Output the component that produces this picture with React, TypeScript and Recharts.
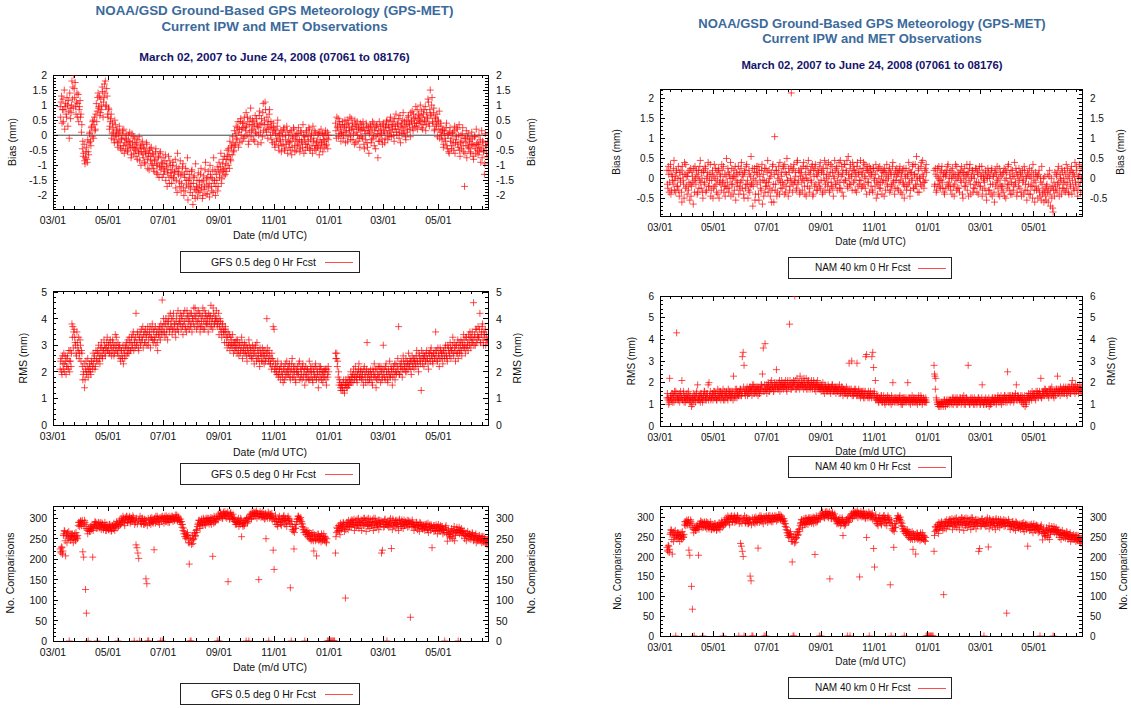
import React from "react";
import { ScatterChart, Scatter, XAxis, YAxis, ReferenceArea, ReferenceLine } from "recharts";

const FONT = '"Liberation Sans", Arial, Helvetica, sans-serif';

// ---- time axis: x = days since 1 March 2007 (record: 2 Mar 2007 .. 24 Jun 2008) ----
const X_END = 482;
const monthTickDays = [0, 61, 122, 184, 245, 306, 366, 427];
const monthTickLabels = ["03/01", "05/01", "07/01", "09/01", "11/01", "01/01", "03/01", "05/01"];
const minorTickDays = [
  12, 24, 37, 49, 73, 85, 98, 110, 134, 147, 159, 172, 196, 208, 221, 233,
  257, 269, 282, 294, 318, 330, 342, 354, 378, 390, 403, 415, 439, 451, 464, 476,
];

// ---- y tick values ----
const gfsBiasTicks = [-2, -1.5, -1, -0.5, 0, 0.5, 1, 1.5, 2];
const namBiasTicks = [-0.5, 0, 0.5, 1, 1.5, 2];
const gfsRmsTicks = [0, 1, 2, 3, 4, 5];
const namRmsTicks = [0, 1, 2, 3, 4, 5, 6];
const countTicks = [0, 50, 100, 150, 200, 250, 300];

// ---- daily values, one entry per day starting 2 Mar 2007 (null = no data) ----
// Two runs per day: run 1 is plotted at the start of the day, run 2 half a day later.

// GFS 0.5 deg 0 Hr Fcst IPW bias, hundredths of a millimetre
const gfsBiasRun1: (number | null)[] = [
  null, null, null, null, null, null, null, 95, 110, 40,
  120, 85, 20, 105, 60, 100, 115, -10, 90, 75,
  180, 160, 200, 125, 95, 110, 60, 135, 85, 115,
  70, 35, -20, -60, -85, -75, -40, -90, -55, -25,
  10, -35, 30, 45, -10, 60, 20, 105, 80, 140,
  95, 65, 120, 85, 145, 110, 170, 180, 100, 130,
  60, 85, 30, 55, -10, 40, 10, -25, 35, -5,
  20, -40, -20, 10, -45, -15, 15, -35, -60, -10,
  5, -30, -50, -20, 10, -40, -65, -25, -5, -45,
  -30, -70, -40, -15, -60, -85, -35, -55, -20, -75,
  -45, -95, -60, -30, -110, -70, -50, -85, -40, -100,
  -65, -120, -80, -45, -95, -130, -70, -105, -55, -90,
  -140, -75, -110, -85, -150, -95, -125, -70, -160, -100,
  -135, -115, -90, -145, -120, -175, -105, -60, -130, -155,
  -85, -185, -125, -95, -200, -140, -110, -165, -75, -150,
  -130, -190, -160, -115, -230, -140, -180, -95, -170, -205,
  -125, -150, -185, -110, -155, -200, -135, -170, -90, -145,
  -195, -120, -160, -100, -140, -185, -115, -75, -150, -200,
  -130, -105, -170, -90, -125, -60, -145, -95, -115, -70,
  -130, -80, -50, -100, -65, -20, -85, -40, -5, -55,
  15, -30, 30, -15, 45, 10, -25, 55, 20, 40,
  -10, 60, 25, 75, 0, 45, -20, 35, 90, 15,
  50, -15, 30, 65, 5, 40, -30, 25, 80, 10,
  55, -5, 105, 35, 110, 20, 60, -10, 45, 85,
  0, 30, -25, 40, 15, -40, 20, -10, 50, -35,
  5, -20, -55, 10, -30, 25, -45, -15, 30, -60,
  0, -25, -50, 15, -40, -10, 20, -55, -20, 5,
  -35, 25, -15, -45, 10, -25, 35, -60, -5, -30,
  15, -40, -20, 20, -50, 0, -35, 30, -10, -45,
  10, -25, -40, 5, -65, -15, 20, -30, -55, 0,
  -20, 15, -30, 10, -15, null, null, null, null, null,
  null, null, 40, -10, 25, 55, 5, 35, -20, 10,
  45, 0, 30, -25, 15, 50, -5, 25, 60, -15,
  20, 40, 5, -30, 35, 10, 45, -20, 20, -40,
  15, 35, -10, 25, -45, 5, 40, -25, 15, -60,
  10, 30, -15, 45, 0, -35, 25, -5, 35, -75,
  15, -20, 30, 5, -30, 40, 10, -10, 25, 50,
  -15, 35, 15, 60, -5, 30, 45, -20, 20, 70,
  0, 35, 55, 10, -25, 40, 25, 75, 5, 30,
  -15, 50, 20, 65, 35, -5, 45, 80, 15, 55,
  30, 95, 40, 20, 70, 50, 100, 25, 60, 35,
  85, 45, 15, 75, 55, 110, 30, 150, 65, 125,
  40, 90, 20, 60, 35, -5, 45, 80, 10, 30,
  -15, 20, -30, 15, -20, 40, -45, 5, -60, 25,
  -10, -35, 10, -50, 30, -25, -5, 20, -40, 35,
  -70, 0, -20, 25, -55, -170, -10, 15, -35, 5,
  -45, -15, -60, 10, -30, -80, -5, -45, 20, -25,
  -65, 0, -40, -90, 15, -20, -55, -130, 5, -35, -70,
];
const gfsBiasRun2: (number | null)[] = [
  null, null, null, null, null, null, null, 60, 130, 85,
  45, 150, 95, 70, 125, 30, 80, 140, 55, 100,
  120, 90, 155, 175, 70, 140, 105, 45, 95, 60,
  10, -45, -70, -30, -95, -55, -80, -15, -65, 5,
  -20, 25, -5, 50, 35, 15, 70, 45, 125, 90,
  130, 75, 100, 160, 60, 125, 140, 95, 155, 70,
  90, 20, 45, 70, 5, 25, -15, 50, 0, 15,
  -25, 5, 30, -35, -10, -50, 0, 20, -25, -45,
  -15, -55, 0, -35, -20, -75, 5, -40, -60, -10,
  -50, -25, -80, -55, -5, -45, -100, -30, -65, -40,
  -90, -55, -25, -80, -60, -115, -45, -70, -95, -60,
  -110, -85, -55, -125, -100, -75, -140, -60, -115, -105,
  -95, -130, -120, -65, -105, -170, -115, -140, -85, -125,
  -160, -100, -140, -125, -80, -150, -190, -120, -110, -170,
  -135, -160, -105, -175, -130, -185, -150, -120, -215, -170,
  -145, -175, -120, -200, -160, -135, -210, -185, -150, -175,
  -190, -165, -130, -175, -210, -150, -180, -115, -195, -165,
  -140, -175, -205, -130, -170, -145, -190, -160, -120, -170,
  -150, -185, -115, -140, -105, -160, -120, -80, -135, -110,
  -95, -120, -70, -45, -110, -80, -35, -65, -25, -50,
  -35, 5, -10, 25, -40, 20, 45, 0, -20, 25,
  40, -5, 15, 30, 60, -30, 10, 55, -5, 35,
  20, 45, -20, 10, 55, 30, 0, 65, 35, -25,
  40, 75, 15, 50, 85, 10, 35, 20, 70, 25,
  45, -15, 10, 25, -30, 5, -20, 30, 0, -50,
  -15, 15, -35, -5, 20, -50, 0, -30, 15, -20,
  -40, 10, -20, -65, -5, 25, -35, 0, -50, -15,
  5, -30, -55, 15, -20, -40, 0, -15, -50, 10,
  -30, -5, 25, -45, -15, 5, -60, -20, 15, -35,
  -50, -20, 0, -35, 10, -45, -25, 5, -15, -40,
  5, -35, -10, -45, 0, null, null, null, null, null,
  null, null, 15, 60, 30, -5, 45, 20, 5, 35,
  -10, 25, 50, 10, 35, -20, 40, 15, 0, 55,
  30, -15, 20, 50, -25, 30, 0, 25, -10, 40,
  -5, 20, 45, -30, 15, -15, 30, -40, 25, 5,
  35, -25, 20, -10, 40, 15, -45, 30, 5, -20,
  45, 0, 20, -15, 35, 15, -25, 30, 45, 5,
  25, -5, 50, 10, 35, 20, 0, 55, 30, 10,
  40, 20, -10, 65, 30, 5, 50, 15, 45, -5,
  35, 10, 60, 40, 20, 75, 50, 25, 70, 40,
  60, 30, 85, 55, 40, 65, 45, 80, 20, 70,
  50, 95, 35, 60, 120, 40, 85, 70, 100, 45,
  75, 15, 55, 30, 70, 50, 20, -10, 40, 0,
  15, -40, 5, -10, 25, -35, 0, -55, 10, -20,
  -45, 5, -25, 15, -60, -15, 25, -30, 0, -50,
  -25, -45, 5, -35, -10, -60, -25, -75, -5, -40,
  -20, -55, -30, -10, -70, -35, -5, -60, -30, -50,
  -30, -55, -15, -45, -75, -25, -50, -95, -35, -60, -20,
];

// GFS 0.5 deg 0 Hr Fcst IPW RMS, tenths of a millimetre
const gfsRmsRun1: (number | null)[] = [
  null, null, null, null, null, null, null, 21, 25, 19,
  23, 27, 20, 24, 22, 26, 21, 24, 28, 22,
  38, 37, 35, 33, 30, 26, 31, 28, 25, 32,
  24, 27, 17, 20, 14, 21, 19, 22, 18, 20,
  22, 19, 24, 21, 23, 26, 22, 25, 28, 24,
  27, 23, 26, 29, 25, 28, 30, 26, 29, 33,
  28, 31, 27, 30, 26, 32, 29, 27, 34, 30,
  28, 31, 26, 29, 24, 28, 25, 23, 27, 30,
  26, 29, 32, 27, 31, 28, 33, 30, 35, 32,
  29, 42, 31, 34, 28, 33, 30, 36, 32, 29,
  35, 31, 34, 30, 37, 32, 35, 29, 33, 38,
  31, 36, 33, 30, 35, 28, 34, 37, 32, 36,
  47, 35, 38, 33, 40, 36, 32, 39, 35, 42,
  37, 34, 40, 36, 38, 33, 41, 37, 35, 39,
  42, 36, 40, 34, 38, 43, 37, 35, 41, 39,
  36, 42, 38, 35, 40, 44, 37, 41, 36, 39,
  43, 38, 35, 41, 37, 44, 39, 36, 42, 38,
  40, 35, 41, 37, 45, 39, 36, 42, 38, 40,
  43, 37, 39, 34, 40, 36, 33, 38, 35, 31,
  37, 33, 29, 35, 31, 28, 33, 30, 34, 27,
  31, 29, 32, 27, 30, 26, 31, 28, 33, 25,
  29, 31, 27, 30, 24, 28, 32, 26, 29, 25,
  30, 27, 23, 29, 26, 31, 25, 28, 22, 27,
  24, 29, 26, 23, 28, 25, 40, 27, 24, 26,
  23, 21, 25, 37, 36, 20, 22, 19, 24, 18,
  21, 17, 23, 19, 16, 22, 20, 18, 24, 21,
  19, 23, 17, 21, 25, 20, 18, 22, 16, 20,
  22, 19, 24, 18, 21, 17, 23, 20, 15, 22,
  19, 21, 17, 24, 20, 18, 22, 16, 21, 19,
  23, 17, 20, 14, 22, 18, 21, 19, 16, 20,
  18, 21, 15, 19, 22, null, null, null, null, null,
  null, null, 27, 25, 22, 18, 15, 16, 13, 15,
  14, 17, 12, 15, 16, 14, 18, 15, 17, 20,
  16, 19, 21, 17, 22, 18, 16, 20, 23, 18,
  21, 17, 19, 15, 22, 18, 20, 31, 16, 19,
  17, 21, 19, 15, 20, 23, 18, 14, 21, 17,
  19, 22, 16, 20, 18, 30, 21, 17, 23, 19,
  16, 20, 24, 18, 21, 15, 22, 19, 17, 23,
  20, 25, 37, 19, 22, 24, 18, 26, 21, 23,
  25, 20, 23, 27, 22, 24, 19, 26, 23, 21,
  25, 22, 28, 24, 20, 26, 23, 13, 25, 27,
  22, 26, 24, 28, 25, 21, 27, 24, 29, 26,
  23, 27, 25, 35, 28, 24, 26, 22, 29, 25,
  27, 23, 28, 25, 30, 26, 24, 29, 27, 31,
  25, 28, 33, 26, 29, 24, 30, 27, 25, 31,
  28, 32, 26, 30, 34, 29, 27, 33, 30, 28,
  32, 35, 29, 33, 31, 46, 34, 30, 36, 32,
  37, 33, 42, 31, 35, 38, 30, 34, 36, 32, 31,
];
const gfsRmsRun2: (number | null)[] = [
  null, null, null, null, null, null, null, 24, 20, 26,
  21, 23, 26, 19, 25, 22, 28, 20, 24, 27,
  33, 29, 36, 31, 27, 35, 29, 33, 27, 30,
  28, 22, 19, 23, 17, 24, 20, 25, 21, 23,
  20, 24, 22, 27, 25, 21, 28, 24, 27, 30,
  25, 29, 31, 26, 28, 32, 27, 29, 31, 28,
  30, 27, 32, 29, 28, 31, 26, 30, 28, 33,
  27, 29, 30, 25, 28, 26, 30, 28, 25, 29,
  31, 27, 29, 33, 28, 31, 29, 34, 28, 31,
  33, 30, 35, 29, 32, 35, 31, 33, 37, 34,
  31, 36, 33, 35, 30, 34, 37, 33, 36, 32,
  35, 32, 37, 34, 31, 36, 33, 35, 38, 34,
  37, 40, 35, 38, 34, 39, 37, 41, 36, 38,
  40, 36, 42, 38, 35, 39, 36, 43, 38, 40,
  38, 41, 37, 42, 39, 36, 40, 43, 37, 41,
  39, 37, 42, 40, 38, 41, 44, 39, 42, 37,
  40, 42, 37, 39, 41, 36, 43, 40, 38, 41,
  38, 42, 39, 41, 37, 40, 44, 38, 41, 39,
  40, 38, 42, 37, 39, 35, 38, 36, 34, 36,
  35, 31, 33, 30, 34, 30, 32, 29, 31, 30,
  28, 31, 29, 32, 28, 30, 27, 29, 31, 28,
  27, 30, 28, 26, 29, 27, 30, 28, 26, 28,
  25, 29, 27, 30, 24, 28, 26, 24, 29, 26,
  27, 24, 28, 26, 24, 27, 29, 25, 28, 23,
  25, 27, 22, 24, 21, 23, 20, 22, 19, 21,
  19, 22, 20, 18, 21, 17, 23, 20, 19, 22,
  21, 18, 20, 23, 18, 22, 20, 17, 21, 19,
  20, 23, 17, 21, 19, 22, 18, 21, 19, 17,
  21, 18, 20, 17, 22, 20, 17, 20, 18, 22,
  18, 21, 19, 17, 20, 22, 17, 20, 18, 21,
  20, 17, 21, 18, 20, null, null, null, null, null,
  null, null, 25, 27, 24, 20, 17, 14, 15, 13,
  16, 13, 15, 17, 14, 16, 15, 17, 16, 18,
  18, 16, 19, 18, 20, 17, 19, 21, 18, 20,
  18, 20, 17, 21, 19, 16, 21, 18, 20, 17,
  20, 18, 16, 21, 18, 19, 21, 17, 19, 22,
  18, 20, 22, 17, 21, 19, 18, 22, 20, 17,
  21, 18, 19, 22, 20, 18, 21, 23, 20, 19,
  22, 21, 19, 23, 20, 22, 21, 24, 22, 20,
  22, 24, 21, 23, 25, 21, 24, 22, 25, 24,
  23, 26, 24, 22, 27, 24, 25, 28, 23, 25,
  26, 24, 27, 25, 23, 27, 25, 28, 26, 24,
  27, 25, 28, 26, 24, 29, 27, 25, 28, 27,
  25, 28, 26, 29, 27, 25, 30, 28, 26, 29,
  28, 30, 27, 31, 28, 30, 27, 32, 29, 27,
  30, 28, 31, 29, 32, 30, 33, 29, 31, 34,
  30, 33, 31, 35, 32, 30, 33, 36, 31, 34,
  33, 36, 31, 34, 37, 32, 35, 33, 30, 34, 32,
];

// number of station comparisons per run (same station set for both models)
const comparisonsRun1: (number | null)[] = [
  null, null, null, null, null, null, null, 225, 215, 228,
  220, 262, 268, 208, 258, 265, 250, 0, 255, 262,
  248, 258, 252, 262, 245, 256, 250, 282, 290, 285,
  292, 288, 218, 205, 295, 126, 68, 270, 0, 272,
  268, 275, 282, 205, 278, 285, 290, 275, 0, 282,
  288, 276, 290, 280, 285, 272, 278, 282, 270, 275,
  280, 272, 285, 276, 270, 282, 274, 280, 278, 285,
  276, 0, 282, 290, 285, 296, 292, 300, 288, 302,
  296, 304, 290, 298, 305, 292, 300, 296, 302, 0,
  298, 235, 228, 215, 202, 0, 292, 286, 300, 292,
  285, 296, 152, 140, 0, 0, 288, 300, 292, 296,
  288, 223, 296, 305, 292, 300, 298, 285, 0, 303,
  0, 300, 288, 305, 298, 292, 302, 296, 290, 300,
  305, 298, 292, 302, 296, 300, 308, 294, 302, 296,
  290, 285, 278, 270, 262, 255, 250, 260, 265, 240,
  188, 0, 0, 245, 238, 250, 265, 258, 272, 280,
  288, 295, 275, 292, 283, 285, 298, 290, 283, 296,
  300, 293, 286, 298, 302, 295, 207, 288, 300, 292,
  298, 0, 296, 0, 302, 312, 305, 300, 315, 308,
  303, 312, 306, 145, 310, 298, 314, 305, 300, 296,
  292, 285, 290, 296, 288, 280, 294, 300, 255, 286,
  290, 282, 295, 0, 300, 292, 0, 305, 310, 298,
  312, 305, 308, 315, 310, 300, 312, 150, 305, 310,
  312, 305, 302, 310, 300, 250, 308, 306, 0, 300,
  310, 305, 296, 222, 175, 300, 285, 292, 280, 298,
  305, 290, 282, 300, 295, 306, 285, 295, 280, 300,
  295, 288, 130, 0, 272, 268, 225, 285, 276, 292,
  298, 305, 300, 296, 288, 280, 272, 265, 0, 260,
  268, 255, 262, 250, 258, 245, 248, 265, 220, 255,
  245, 208, 252, 260, 248, 255, 242, 258, 250, 262,
  245, 252, 240, 0, 0, 0, 0, 0, 0, 0,
  0, 0, 215, 265, 275, 270, 282, 260, 278, 285,
  275, 288, 268, 105, 280, 290, 272, 285, 278, 292,
  280, 295, 285, 270, 290, 278, 298, 285, 275, 292,
  288, 270, 295, 282, 300, 290, 268, 298, 280, 285,
  275, 292, 282, 296, 270, 288, 300, 278, 290, 284,
  272, 295, 286, 215, 222, 290, 280, 298, 285, 0,
  292, 278, 288, 300, 226, 272, 294, 282, 290, 276,
  295, 285, 270, 298, 288, 280, 292, 275, 296, 284,
  290, 286, 278, 294, 285, 58, 288, 296, 280, 270,
  285, 278, 290, 272, 282, 268, 288, 276, 280, 274,
  284, 270, 278, 286, 272, 265, 280, 276, 284, 228,
  275, 268, 282, 270, 278, 262, 285, 272, 268, 280,
  275, 262, 270, 0, 278, 265, 244, 272, 260, 252,
  268, 255, 250, 262, 245, 258, 270, 265, 0, 278,
  272, 265, 258, 268, 262, 250, 258, 245, 262, 255,
  250, 260, 248, 255, 262, 245, 252, 258, 240, 250,
  255, 245, 252, 248, 240, 256, 244, 250, 238, 246, 235,
];
const comparisonsRun2: (number | null)[] = [
  null, null, null, null, null, null, null, 218, 230, 212,
  258, 270, 245, 262, 240, 255, 268, 252, 246, 258,
  262, 240, 255, 248, 265, 252, 258, 290, 280, 294,
  282, 295, 286, 280, 290, 275, 285, 262, 275, 268,
  280, 272, 278, 270, 285, 292, 280, 288, 276, 290,
  278, 285, 272, 288, 276, 282, 290, 270, 284, 278,
  272, 285, 278, 268, 282, 276, 288, 270, 284, 292,
  288, 280, 295, 285, 300, 290, 305, 295, 282, 298,
  305, 290, 298, 302, 288, 300, 292, 306, 295, 285,
  290, 300, 286, 295, 298, 305, 288, 300, 294, 285,
  298, 288, 295, 282, 300, 290, 296, 285, 302, 290,
  296, 300, 288, 298, 305, 290, 295, 302, 298, 292,
  305, 295, 300, 292, 306, 298, 290, 305, 300, 296,
  298, 305, 300, 295, 308, 302, 296, 305, 298, 292,
  298, 292, 285, 276, 268, 262, 256, 252, 258, 250,
  240, 252, 236, 258, 248, 262, 255, 270, 265, 285,
  295, 282, 290, 298, 288, 300, 285, 295, 300, 288,
  292, 300, 295, 290, 285, 300, 295, 305, 290, 298,
  305, 300, 310, 305, 315, 308, 300, 312, 305, 316,
  310, 300, 315, 305, 298, 312, 308, 300, 310, 302,
  298, 290, 285, 292, 300, 288, 285, 296, 290, 280,
  286, 295, 290, 300, 288, 302, 298, 310, 300, 315,
  305, 315, 312, 305, 318, 312, 305, 310, 316, 302,
  305, 315, 310, 298, 312, 305, 300, 315, 310, 305,
  302, 312, 305, 300, 292, 308, 296, 285, 300, 290,
  298, 285, 300, 292, 305, 296, 300, 288, 295, 305,
  300, 296, 285, 292, 280, 272, 265, 275, 285, 298,
  305, 300, 296, 302, 292, 286, 278, 272, 268, 265,
  260, 270, 255, 265, 250, 262, 255, 245, 260, 250,
  258, 248, 262, 245, 255, 250, 262, 245, 255, 248,
  255, 242, 250, null, null, null, null, null, null, null,
  null, null, 255, 278, 268, 282, 270, 288, 272, 280,
  290, 278, 285, 272, 290, 282, 295, 280, 288, 296,
  285, 290, 298, 282, 295, 288, 282, 300, 290, 282,
  296, 285, 290, 300, 282, 295, 288, 285, 300, 290,
  298, 282, 290, 285, 300, 278, 292, 288, 282, 296,
  288, 280, 294, 285, 292, 278, 296, 285, 290, 282,
  286, 295, 280, 290, 285, 298, 282, 288, 295, 285,
  290, 280, 295, 286, 280, 296, 285, 290, 282, 292,
  285, 295, 288, 280, 292, 285, 280, 290, 286, 282,
  278, 290, 282, 285, 276, 290, 280, 285, 274, 282,
  276, 285, 280, 272, 288, 278, 284, 270, 280, 275,
  282, 276, 270, 284, 275, 280, 270, 278, 282, 272,
  280, 272, 265, 276, 282, 270, 260, 265, 255, 262,
  275, 268, 272, 280, 270, 265, 278, 272, 268, 262,
  270, 275, 268, 262, 270, 258, 264, 255, 268, 260,
  262, 255, 258, 265, 252, 258, 248, 262, 255, 245,
  250, 258, 245, 255, 250, 242, 255, 248, 245, 240, 248,
];

// NAM 40 km 0 Hr Fcst IPW bias, hundredths of a millimetre
const namBiasRun1: (number | null)[] = [
  null, null, null, null, null, null, null, 20, -25, 10,
  -10, 35, -30, 5, -15, 45, -5, -35, 15, -20,
  30, -45, 0, 20, -60, 10, -15, 40, -25, 5,
  -40, 15, -10, -55, 25, -20, 5, -65, -5, 30,
  -15, 10, -35, 20, -5, 45, -25, 0, -50, 15,
  -10, 25, -30, 5, 40, -20, 10, -45, -5, 20,
  -25, 35, 0, -15, 15, -40, 25, -10, 5, -30,
  20, -5, -35, 10, -20, 50, -10, 15, -25, 0,
  -45, 25, -15, 5, -30, 30, -5, -20, 10, -40,
  15, -10, 40, -25, 5, -50, 20, -15, 35, -5,
  -30, 10, -20, 55, -10, -70, 0, 25, -40, 15,
  -15, 30, -55, 5, -25, 20, -65, 10, -5, -35,
  25, -20, 45, -10, 0, -45, 15, -30, 35, -60,
  105, -15, 20, -35, 10, -5, 40, -25, 5, -10,
  30, -40, 15, -20, 50, -5, 25, -30, 0, 215,
  20, -15, 35, -10, 5, -25, 45, -5, 15, -35,
  25, -10, 0, 40, -20, 10, -45, 30, -5, 15,
  -25, 20, -10, 35, -40, 5, 25, -15, 10, -30,
  15, -20, 40, -5, 20, -35, 10, 45, -15, 0,
  25, -10, 5, -30, 35, -20, 15, -45, 0, 20,
  -15, 30, -5, 10, -25, 45, 5, -35, 20, -10,
  35, -5, 15, -20, 55, 0, 25, -15, 10, 40,
  -10, 20, -30, 5, 30, -20, 15, -5, 45, -25,
  10, 25, -15, 35, 0, -40, 20, -10, 30, 5,
  -20, 15, -35, 25, -5, 10, -50, 20, -15, 0,
  30, -25, 5, -10, 20, -45, 15, -5, 35, -20,
  0, 25, -30, 10, -15, 40, -5, -40, 20, 5,
  -25, 15, -10, 30, -35, 5, 20, -15, -50, 10,
  25, -20, 5, 40, -10, -30, 15, 0, 35, -25,
  10, -15, 55, -5, 20, -35, 0, 30, -20, 45,
  5, -10, 25, 35, null, null, null, null, null, null,
  null, null, 20, -15, 10, -30, 25, 0, -20, 15,
  -5, 30, -25, 10, -40, 5, 20, -15, 35, -10,
  15, -30, 0, 25, -20, -45, 10, -5, 30, -25,
  5, -35, 20, -10, 15, -50, 0, 25, -20, 10,
  -30, 15, -5, 35, -40, 5, 20, -25, 0, -15,
  25, -35, 10, -10, 30, -20, 5, -45, 15, -5,
  -25, 20, -55, 0, 15, -30, 10, -40, 25, -15,
  5, -60, 20, -10, 30, -25, 0, -45, 15, -20,
  10, -35, 25, -5, -50, 15, -15, 35, -30, 0,
  20, -40, 5, -20, 40, -10, 15, -35, 0, 25,
  -25, 10, -45, 20, -5, 30, -30, 5, -55, 15,
  -15, 25, -40, 0, -20, 35, -10, -60, 15, -30,
  5, -25, 20, -45, -10, 30, -40, 0, -35, -25,
  -55, -15, 10, -30, 20, -70, 0, -20, -85, -10,
  15, -30, 5, -15, 30, -45, 10, -5, 25, -25,
  0, 20, -35, 35, -10, 5, -40, 15, -20, 30,
  -5, 10, -30, 40, -15, 20, -45, 5, 35, -10, 25,
];
const namBiasRun2: (number | null)[] = [
  null, null, null, null, null, null, null, -15, 30, -35,
  20, -40, 10, -5, 25, -30, 5, 20, -20, 0,
  -30, 15, -10, -35, 30, -5, -50, 10, 35, -20,
  5, -30, 20, -15, -45, 15, -10, 25, -35, 0,
  20, -40, 5, -25, 30, -10, 15, -35, 20, -15,
  30, -35, 0, 15, -20, -5, 35, -30, 10, -50,
  5, -20, 25, -35, -5, 20, -50, 10, -15, 35,
  -10, 30, -20, -45, 5, -25, 25, -35, 10, 40,
  -15, 0, -40, 20, 5, -55, 15, -10, 30, -20,
  -30, 25, -5, 10, -40, 15, -25, 30, -15, -50,
  20, -35, 5, -15, 25, -20, 15, -55, -5, 30,
  10, -40, 20, -10, -30, 35, -5, -45, 25, -20,
  -10, 15, -35, 20, -25, 5, -60, 30, -15, 10,
  -30, 20, -45, 0, 30, -40, -10, 15, -25, 25,
  -15, 35, -35, 10, -5, -45, 15, -20, 30, -10,
  -35, 25, -5, 15, -30, 40, -15, 20, -40, 5,
  15, -30, 30, -5, -40, 25, 0, -20, 45, -35,
  10, -5, 30, -45, 20, -20, 35, -30, 5, 20,
  -10, 30, -25, 15, -40, 25, -5, -30, 35, 10,
  -20, 40, -35, 15, -10, 30, -25, 5, 45, -15,
  25, -30, 15, 40, -10, -25, 30, 10, -45, 35,
  -5, 20, 45, -25, 10, -15, 35, 5, -30, 20,
  30, -5, 15, -35, 40, 10, -15, 25, -5, 15,
  -20, 40, 5, -25, 20, 30, -10, 15, -35, 25,
  10, -30, 25, 0, -20, 35, -10, -40, 25, -25,
  -10, 20, -40, 15, -5, 25, -30, 10, -15, 5,
  20, -35, 15, -20, 30, -10, 10, -25, -5, 25,
  10, -30, 20, -5, 15, -40, -10, 25, -20, 0,
  -30, 10, -15, 20, -45, 15, -5, 30, -25, 10,
  35, -20, 5, -35, 25, 0, -15, 40, 10, -10,
  -25, 20, -5, 15, null, null, null, null, null, null,
  null, null, -20, 25, -35, 5, -15, 30, -5, -25,
  20, -10, 5, -35, 15, -25, 10, 30, -20, 0,
  -20, 20, -40, 5, 10, -15, 35, -30, 0, 15,
  -25, 10, -5, 30, -40, 15, -20, 5, -10, 35,
  10, -45, 25, -15, 0, 20, -35, 10, -25, 25,
  -10, 15, -40, 20, -20, 5, 30, -30, 0, -10,
  10, -40, 5, 25, -30, 0, -15, 20, -45, 5,
  -35, 15, -20, 10, -5, -40, 25, -15, 5, -30,
  -20, 15, -45, 20, 0, -25, 30, -15, 10, -40,
  -10, 20, -30, 5, -15, 25, -45, 10, -20, -5,
  15, -35, 5, -10, -40, 20, -15, 0, -30, 10,
  -40, 5, -20, 20, -50, 10, -30, -5, -20, 5,
  -50, 10, -35, 0, -55, -15, -30, -60, 5, -45,
  -20, -35, -60, 5, -40, -25, -50, -75, -30, -45,
  -20, 10, -35, 20, -10, -25, 0, -40, 15, -15,
  -30, -10, 10, -25, 25, -35, 0, -15, 20, -40,
  15, -25, 5, -10, 30, -30, 0, -20, 10, -35, 0,
];

// NAM 40 km 0 Hr Fcst IPW RMS, tenths of a millimetre
const namRmsRun1: (number | null)[] = [
  null, null, null, null, null, null, null, 13, 12, 10,
  22, 14, 12, 15, 13, 11, 14, 16, 43, 13,
  12, 15, 13, 14, 21, 12, 16, 13, 11, 14,
  15, 12, 14, 13, 11, 9, 13, 15, 12, 14,
  13, 16, 19, 12, 14, 11, 15, 13, 12, 14,
  16, 13, 12, 15, 19, 20, 14, 12, 13, 15,
  14, 16, 13, 15, 12, 17, 14, 13, 16, 15,
  13, 17, 14, 12, 15, 16, 13, 17, 14, 15,
  16, 13, 15, 23, 14, 17, 15, 13, 16, 14,
  15, 17, 14, 32, 34, 28, 15, 17, 16, 14,
  17, 15, 18, 16, 14, 17, 19, 15, 16, 18,
  16, 14, 18, 15, 17, 19, 24, 36, 16, 38,
  17, 15, 18, 19, 16, 20, 17, 19, 18, 16,
  19, 18, 26, 17, 20, 18, 16, 19, 21, 18,
  17, 20, 18, 19, 16, 21, 18, 47, 19, 17,
  20, 18, 19, 60, 21, 17, 19, 18, 20, 23,
  18, 21, 19, 17, 20, 18, 22, 19, 17, 20,
  19, 18, 21, 17, 19, 20, 18, 16, 19, 21,
  18, 17, 19, 16, 18, 20, 17, 15, 18, 16,
  17, 19, 16, 18, 15, 17, 19, 16, 18, 17,
  15, 18, 16, 17, 19, 15, 16, 18, 14, 17,
  16, 15, 18, 14, 16, 29, 17, 15, 30, 16,
  14, 17, 15, 16, 29, 14, 17, 15, 13, 16,
  15, 14, 16, 13, 32, 33, 14, 16, 13, 15,
  14, 32, 34, 27, 15, 21, 13, 12, 14, 11,
  13, 12, 14, 11, 13, 12, 10, 13, 12, 14,
  11, 13, 12, 10, 13, 20, 12, 11, 13, 12,
  11, 13, 12, 14, 11, 12, 10, 13, 12, 11,
  13, 12, 20, 11, 13, 10, 12, 14, 11, 12,
  13, 11, 12, 10, 13, 12, 11, 14, 12, 11,
  13, 12, 11, 12, null, null, null, null, null, null,
  null, null, 28, 23, 22, 12, 10, 9, 10, 11,
  9, 10, 11, 10, 12, 9, 11, 10, 12, 11,
  10, 12, 11, 13, 10, 12, 11, 13, 12, 10,
  12, 11, 13, 10, 12, 11, 14, 12, 10, 13,
  11, 28, 12, 10, 13, 11, 12, 10, 13, 11,
  12, 10, 11, 13, 12, 10, 11, 19, 12, 10,
  11, 13, 10, 12, 11, 9, 12, 10, 11, 13,
  12, 11, 13, 10, 12, 14, 11, 13, 12, 10,
  13, 11, 12, 14, 11, 13, 25, 12, 14, 11,
  13, 12, 14, 11, 13, 15, 19, 12, 14, 13,
  12, 14, 11, 13, 10, 12, 9, 11, 14, 13,
  15, 12, 14, 13, 16, 14, 13, 15, 12, 14,
  16, 13, 15, 14, 22, 13, 15, 16, 14, 17,
  15, 14, 16, 13, 15, 17, 14, 16, 15, 13,
  16, 14, 17, 23, 15, 16, 14, 17, 15, 16,
  18, 15, 17, 16, 14, 18, 16, 17, 15, 19,
  21, 16, 18, 15, 17, 16, 18, 15, 17, 16, 18,
];
const namRmsRun2: (number | null)[] = [
  null, null, null, null, null, null, null, 15, 13, 11,
  13, 12, 15, 11, 14, 16, 12, 13, 15, 12,
  14, 11, 16, 13, 12, 15, 11, 14, 13, 12,
  13, 16, 11, 14, 12, 13, 10, 12, 14, 11,
  15, 12, 13, 14, 12, 15, 13, 11, 14, 16,
  12, 14, 15, 13, 12, 14, 16, 13, 15, 12,
  16, 13, 15, 12, 14, 13, 16, 15, 12, 14,
  15, 12, 16, 14, 13, 15, 12, 14, 16, 13,
  14, 16, 12, 15, 13, 14, 17, 15, 14, 16,
  17, 14, 16, 15, 18, 16, 14, 16, 18, 15,
  15, 18, 16, 17, 19, 15, 17, 18, 16, 15,
  18, 17, 15, 17, 19, 16, 18, 16, 19, 17,
  19, 17, 20, 16, 18, 17, 21, 18, 16, 20,
  17, 20, 19, 18, 17, 21, 19, 17, 19, 20,
  19, 18, 21, 17, 20, 18, 19, 21, 17, 20,
  18, 21, 20, 17, 19, 22, 18, 20, 17, 19,
  20, 18, 20, 22, 18, 19, 17, 20, 21, 18,
  17, 20, 18, 19, 21, 17, 19, 20, 18, 17,
  19, 18, 17, 19, 17, 16, 18, 19, 17, 18,
  16, 18, 17, 16, 18, 19, 16, 17, 16, 18,
  17, 16, 18, 15, 17, 16, 18, 16, 17, 15,
  17, 16, 15, 17, 15, 16, 15, 17, 14, 15,
  16, 15, 17, 14, 15, 16, 14, 16, 15, 14,
  16, 13, 15, 16, 14, 15, 13, 15, 14, 16,
  13, 15, 14, 16, 13, 12, 14, 13, 11, 13,
  12, 14, 11, 12, 14, 11, 13, 11, 13, 12,
  13, 11, 12, 14, 11, 12, 13, 12, 11, 13,
  12, 11, 13, 12, 10, 13, 12, 11, 13, 12,
  11, 12, 13, 12, 11, 13, 12, 11, 13, 11,
  12, 13, 11, 12, 14, 11, 12, 13, 10, 12,
  12, 11, 13, 11, null, null, null, null, null, null,
  null, null, 24, 17, 13, 11, 10, 11, 9, 10,
  11, 10, 9, 12, 10, 11, 12, 10, 11, 12,
  12, 11, 10, 12, 13, 11, 12, 10, 13, 11,
  11, 13, 12, 11, 13, 12, 10, 11, 13, 12,
  12, 11, 10, 12, 11, 13, 11, 12, 10, 12,
  11, 12, 13, 11, 10, 12, 13, 11, 10, 12,
  12, 10, 12, 11, 13, 11, 10, 12, 13, 11,
  11, 13, 12, 11, 13, 12, 13, 11, 14, 12,
  12, 13, 14, 12, 13, 11, 14, 13, 12, 14,
  12, 14, 13, 12, 14, 13, 12, 14, 13, 12,
  13, 12, 14, 11, 13, 14, 12, 10, 13, 12,
  14, 13, 15, 12, 14, 15, 14, 13, 16, 15,
  14, 15, 16, 14, 13, 16, 14, 15, 17, 15,
  16, 15, 14, 17, 16, 15, 18, 15, 14, 16,
  15, 17, 16, 15, 17, 16, 18, 16, 17, 15,
  16, 17, 18, 15, 17, 16, 18, 15, 17, 16,
  17, 18, 16, 19, 16, 18, 17, 16, 19, 17, 16,
];

type Pt = { day: number; value: number };
const toPoints = (values: (number | null)[], unit: number, dayOffset: number): Pt[] =>
  values.flatMap((v, i) => (v === null ? [] : [{ day: i + 1 + dayOffset, value: v / unit }]));
const twoRuns = (a: (number | null)[], b: (number | null)[], unit: number): Pt[] => [
  ...toPoints(a, unit, 0),
  ...toPoints(b, unit, 0.5),
];

const minorTicks = (lo: number, hi: number, step: number, majors: number[]) => {
  const out: number[] = [];
  for (let k = Math.ceil(lo / step - 1e-9); k * step <= hi + 1e-9; k++) {
    const v = Math.round(k * step * 1000) / 1000;
    if (!majors.some((m) => Math.abs(m - v) < 1e-6)) out.push(v);
  }
  return out;
};

const Cross = (props: any) => {
  const { cx, cy } = props;
  if (cx == null || cy == null || isNaN(cx) || isNaN(cy)) return null;
  const r = 3.5;
  return (
    <path
      d={`M${cx - r},${cy}H${cx + r}M${cx},${cy - r}V${cy + r}`}
      stroke="#ff0000"
      strokeOpacity={0.7}
      strokeWidth={1}
      fill="none"
    />
  );
};

const ML = 70;
const MR = 60;
const MT = 12;
const MB = 40;

type PanelProps = {
  left: number;
  top: number;
  width: number;
  height: number;
  domain: [number, number];
  majors: number[];
  minorStep: number;
  points: Pt[];
  font: number;
  zeroLine?: boolean;
};

function Panel(p: PanelProps) {
  const xTicks = [...monthTickDays, ...minorTickDays].sort((a, b) => a - b);
  const yMinors = minorTicks(p.domain[0], p.domain[1], p.minorStep, p.majors);
  const yTicks = [...p.majors, ...yMinors].sort((a, b) => a - b);
  const textStyle = { fontFamily: FONT, fontSize: p.font, fill: "#111" };

  const XTick = (props: any) => {
    const { x, y, payload } = props;
    const idx = monthTickDays.indexOf(payload.value);
    const len = idx >= 0 ? 5 : 3;
    return (
      <g>
        <line x1={x} x2={x} y1={y} y2={y - len} stroke="#000" shapeRendering="crispEdges" />
        <line x1={x} x2={x} y1={y - p.height} y2={y - p.height + len} stroke="#000" shapeRendering="crispEdges" />
        {idx >= 0 && (
          <text x={x} y={y + 11} textAnchor="middle" dominantBaseline="central" style={textStyle}>
            {monthTickLabels[idx]}
          </text>
        )}
      </g>
    );
  };

  const YTick = (props: any) => {
    const { x, y, payload } = props;
    const major = p.majors.some((m) => Math.abs(m - payload.value) < 1e-6);
    const len = major ? 5 : 3;
    return (
      <g>
        <line x1={x} x2={x + len} y1={y} y2={y} stroke="#000" shapeRendering="crispEdges" />
        <line x1={x + p.width - len} x2={x + p.width} y1={y} y2={y} stroke="#000" shapeRendering="crispEdges" />
        {major && (
          <>
            <text x={x - 6} y={y} textAnchor="end" dominantBaseline="central" style={textStyle}>
              {String(payload.value)}
            </text>
            <text x={x + p.width + 8} y={y} textAnchor="start" dominantBaseline="central" style={textStyle}>
              {String(payload.value)}
            </text>
          </>
        )}
      </g>
    );
  };

  return (
    <div style={{ position: "absolute", left: p.left - ML, top: p.top - MT }}>
      <ScatterChart
        width={ML + p.width + MR}
        height={MT + p.height + MB}
        margin={{ top: MT, right: MR, bottom: 0, left: 0 }}
      >
        <XAxis
          xAxisId="d"
          type="number"
          dataKey="day"
          domain={[0, X_END]}
          ticks={xTicks}
          interval={0}
          tick={XTick}
          tickLine={false}
          axisLine={false}
          tickSize={0}
          tickMargin={0}
          height={MB}
          allowDataOverflow
        />
        <YAxis
          yAxisId="v"
          type="number"
          dataKey="value"
          domain={p.domain}
          ticks={yTicks}
          interval={0}
          tick={YTick}
          tickLine={false}
          axisLine={false}
          tickSize={0}
          tickMargin={0}
          width={ML}
          allowDataOverflow
        />
        {p.zeroLine && <ReferenceLine xAxisId="d" yAxisId="v" y={0} stroke="#444" strokeWidth={1} />}
        <Scatter xAxisId="d" yAxisId="v" data={p.points} shape={Cross} isAnimationActive={false} />
        <ReferenceArea
          xAxisId="d"
          yAxisId="v"
          x1={0}
          x2={X_END}
          y1={p.domain[0]}
          y2={p.domain[1]}
          fill="none"
          fillOpacity={0}
          stroke="#000"
          strokeWidth={1}
          ifOverflow="visible"
          shapeRendering="crispEdges"
        />
      </ScatterChart>
    </div>
  );
}

const Txt = (props: {
  x: number;
  y: number;
  size: number;
  children: React.ReactNode;
  weight?: number | string;
  color?: string;
  rotate?: boolean;
}) => (
  <div
    style={{
      position: "absolute",
      left: props.x,
      top: props.y,
      transform: `translate(-50%, -50%)${props.rotate ? " rotate(-90deg)" : ""}`,
      fontFamily: FONT,
      fontSize: props.size,
      fontWeight: props.weight ?? "normal",
      color: props.color ?? "#111",
      whiteSpace: "nowrap",
      lineHeight: 1,
    }}
  >
    {props.children}
  </div>
);

const LegendBox = (props: {
  left: number;
  top: number;
  width: number;
  height: number;
  textRight: number;
  lineFrom: number;
  lineTo: number;
  label: string;
  size: number;
}) => (
  <div
    style={{
      position: "absolute",
      left: props.left,
      top: props.top,
      width: props.width,
      height: props.height,
      border: "1px solid #222",
      boxSizing: "border-box",
    }}
  >
    <div
      style={{
        position: "absolute",
        right: props.left + props.width - props.textRight,
        top: "50%",
        transform: "translateY(-50%)",
        fontFamily: FONT,
        fontSize: props.size,
        color: "#111",
        whiteSpace: "nowrap",
        lineHeight: 1,
      }}
    >
      {props.label}
    </div>
    <div
      style={{
        position: "absolute",
        left: props.lineFrom - props.left - 1,
        width: props.lineTo - props.lineFrom,
        top: Math.floor(props.height / 2) - 1,
        height: 1,
        background: "#ff4a4a",
      }}
    />
  </div>
);

const gfsBiasPts = twoRuns(gfsBiasRun1, gfsBiasRun2, 100);
const gfsRmsPts = twoRuns(gfsRmsRun1, gfsRmsRun2, 10);
const countPts = twoRuns(comparisonsRun1, comparisonsRun2, 1);
const namBiasPts = twoRuns(namBiasRun1, namBiasRun2, 100);
const namRmsPts = twoRuns(namRmsRun1, namRmsRun2, 10);

const TITLE1 = "NOAA/GSD Ground-Based GPS Meteorology (GPS-MET)";
const TITLE2 = "Current IPW and MET Observations";
const PERIOD = "March 02, 2007 to June 24, 2008 (07061 to 08176)";
const DATE_LABEL = "Date (m/d UTC)";
const GFS_NAME = "GFS 0.5 deg 0 Hr Fcst";
const NAM_NAME = "NAM 40 km 0 Hr Fcst";

export default function App() {
  // left column geometry
  const L = { x: 52.5, w: 435, font: 10.5 };
  // right column geometry
  const R = { x: 659.5, w: 422, font: 10 };

  return (
    <div
      style={{
        position: "absolute",
        left: 0,
        top: 0,
        width: 1131,
        height: 708,
        background: "#fff",
        overflow: "hidden",
      }}
    >
      {/* ---------------- GFS column ---------------- */}
      <Txt x={274.5} y={11} size={13.4} weight="bold" color="#3b6a9c">{TITLE1}</Txt>
      <Txt x={274.5} y={26.5} size={13.4} weight="bold" color="#3b6a9c">{TITLE2}</Txt>
      <Txt x={274.5} y={57} size={11.7} weight="bold" color="#15156b">{PERIOD}</Txt>

      <Panel left={L.x} top={74.5} width={L.w} height={134} domain={[-2.45, 2]} majors={gfsBiasTicks}
        minorStep={0.1} points={gfsBiasPts} font={L.font} zeroLine />
      <Txt x={12} y={141.5} size={L.font} rotate>Bias (mm)</Txt>
      <Txt x={531} y={141.5} size={L.font} rotate>Bias (mm)</Txt>
      <Txt x={270} y={235} size={L.font}>{DATE_LABEL}</Txt>
      <LegendBox left={180} top={251} width={180} height={22} textRight={317} lineFrom={325} lineTo={353}
        label={GFS_NAME} size={L.font} />

      <Panel left={L.x} top={290.5} width={L.w} height={134} domain={[0, 5.04]} majors={gfsRmsTicks}
        minorStep={0.2} points={gfsRmsPts} font={L.font} />
      <Txt x={22.5} y={357.5} size={L.font} rotate>RMS (mm)</Txt>
      <Txt x={517} y={357.5} size={L.font} rotate>RMS (mm)</Txt>
      <Txt x={270} y={452} size={L.font}>{DATE_LABEL}</Txt>
      <LegendBox left={180} top={463} width={180} height={22} textRight={317} lineFrom={325} lineTo={353}
        label={GFS_NAME} size={L.font} />

      <Panel left={L.x} top={505.5} width={L.w} height={135} domain={[0, 330]} majors={countTicks}
        minorStep={10} points={countPts} font={L.font} />
      <Txt x={10} y={573} size={L.font} rotate>No. Comparisons</Txt>
      <Txt x={530.5} y={573} size={L.font} rotate>No. Comparisons</Txt>
      <Txt x={270} y={667} size={L.font}>{DATE_LABEL}</Txt>
      <LegendBox left={180} top={683} width={180} height={22} textRight={317} lineFrom={325} lineTo={353}
        label={GFS_NAME} size={L.font} />

      {/* ---------------- NAM column ---------------- */}
      <Txt x={872} y={23} size={13} weight="bold" color="#3b6a9c">{TITLE1}</Txt>
      <Txt x={872} y={38} size={13} weight="bold" color="#3b6a9c">{TITLE2}</Txt>
      <Txt x={872} y={66} size={11.3} weight="bold" color="#15156b">{PERIOD}</Txt>

      <Panel left={R.x} top={88.5} width={R.w} height={127} domain={[-0.95, 2.25]} majors={namBiasTicks}
        minorStep={0.1} points={namBiasPts} font={R.font} />
      <Txt x={617} y={152} size={R.font} rotate>Bias (mm)</Txt>
      <Txt x={1121} y={152} size={R.font} rotate>Bias (mm)</Txt>
      <Txt x={870.5} y={242} size={R.font}>{DATE_LABEL}</Txt>
      <LegendBox left={788} top={257} width={164} height={22} textRight={911.5} lineFrom={918} lineTo={946}
        label={NAM_NAME} size={R.font} />

      <Panel left={R.x} top={295.5} width={R.w} height={130} domain={[0, 6]} majors={namRmsTicks}
        minorStep={0.2} points={namRmsPts} font={R.font} />
      <Txt x={631.5} y={360.5} size={R.font} rotate>RMS (mm)</Txt>
      <Txt x={1111.5} y={360.5} size={R.font} rotate>RMS (mm)</Txt>
      <Txt x={870.5} y={452} size={R.font}>{DATE_LABEL}</Txt>
      <LegendBox left={788} top={456} width={164} height={22} textRight={911.5} lineFrom={918} lineTo={946}
        label={NAM_NAME} size={R.font} />

      <Panel left={R.x} top={505.5} width={R.w} height={130} domain={[0, 330]} majors={countTicks}
        minorStep={10} points={countPts} font={R.font} />
      <Txt x={618} y={570.5} size={R.font} rotate>No. Comparisons</Txt>
      <Txt x={1124} y={570.5} size={R.font} rotate>No. Comparisons</Txt>
      <Txt x={870.5} y={662} size={R.font}>{DATE_LABEL}</Txt>
      <LegendBox left={788} top={677} width={164} height={22} textRight={911.5} lineFrom={918} lineTo={946}
        label={NAM_NAME} size={R.font} />
    </div>
  );
}
